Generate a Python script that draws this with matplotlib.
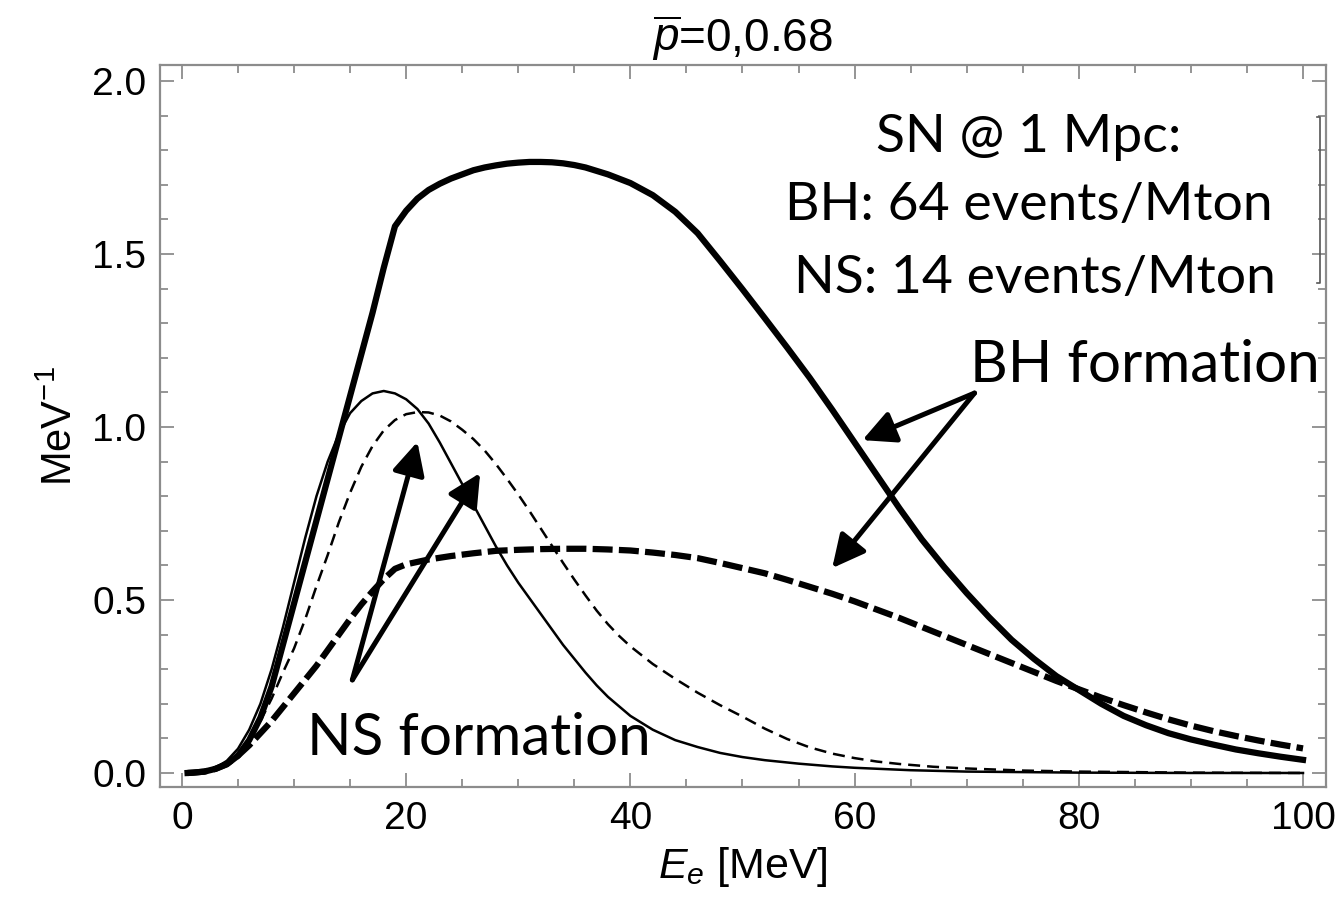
import matplotlib
matplotlib.use("Agg")
import matplotlib.pyplot as plt
from matplotlib.ticker import MultipleLocator

plt.rcParams['mathtext.fontset'] = 'custom'
plt.rcParams['mathtext.rm'] = 'Liberation Sans'
plt.rcParams['mathtext.it'] = 'Liberation Sans:italic'

# BH formation, pbar = 0 (thick solid)
e_bh0 = [0.5, 1, 2, 3, 4, 5, 6, 7, 8, 9, 10, 11, 12, 13, 14, 15, 16, 17, 18, 19, 20, 21, 22,
         23, 24, 25, 26, 27, 28, 29, 30, 31, 32, 33, 34, 35, 36, 38, 40, 42, 44, 46, 48, 50,
         52, 54, 56, 58, 60, 62, 64, 66, 68, 70, 72, 74, 76, 78, 80, 82, 84, 86, 88, 90, 92,
         94, 96, 98, 100]
v_bh0 = [0.0, 0.001, 0.004, 0.012, 0.025, 0.05, 0.095, 0.16, 0.25, 0.37, 0.49, 0.61, 0.73,
         0.85, 0.97, 1.09, 1.21, 1.33, 1.46, 1.58, 1.625, 1.66, 1.685, 1.703, 1.718, 1.73,
         1.742, 1.75, 1.756, 1.761, 1.764, 1.766, 1.766, 1.765, 1.762, 1.757, 1.75, 1.73,
         1.705, 1.67, 1.622, 1.56, 1.48, 1.398, 1.314, 1.229, 1.142, 1.05, 0.955, 0.86, 0.765,
         0.675, 0.595, 0.52, 0.45, 0.385, 0.33, 0.28, 0.24, 0.2, 0.165, 0.138, 0.115, 0.097,
         0.082, 0.068, 0.057, 0.047, 0.038]

# BH formation, pbar = 0.68 (thick dashed)
e_bh68 = [0.5, 1, 2, 3, 4, 5, 6, 7, 8, 9, 10, 11, 12, 13, 14, 15, 16, 17, 18, 19, 20, 21, 22,
          24, 26, 28, 30, 32, 34, 36, 38, 40, 42, 44, 46, 48, 50, 52, 54, 56, 58, 60, 62, 64,
          66, 68, 70, 72, 74, 76, 78, 80, 82, 84, 86, 88, 90, 92, 94, 96, 98, 100]
v_bh68 = [0.0, 0.001, 0.004, 0.012, 0.026, 0.05, 0.08, 0.115, 0.15, 0.19, 0.23, 0.27, 0.31,
          0.355, 0.4, 0.445, 0.487, 0.525, 0.56, 0.59, 0.603, 0.61, 0.617, 0.627, 0.635, 0.642,
          0.645, 0.647, 0.648, 0.648, 0.646, 0.643, 0.637, 0.63, 0.621, 0.607, 0.592, 0.577,
          0.558, 0.538, 0.518, 0.496, 0.472, 0.448, 0.422, 0.396, 0.37, 0.344, 0.318, 0.292,
          0.266, 0.242, 0.218, 0.196, 0.175, 0.155, 0.137, 0.121, 0.107, 0.094, 0.082, 0.071]

# NS formation, pbar = 0 (thin solid)
e_ns0 = [0.5, 1, 2, 3, 4, 5, 6, 7, 8, 9, 10, 11, 12, 13, 14, 15, 16, 17, 18, 19, 20, 21, 22,
         23, 24, 25, 26, 27, 28, 29, 30, 31, 32, 33, 34, 35, 36, 37, 38, 40, 42, 44, 46, 48,
         50, 52, 55, 58, 60, 65, 70, 80, 90, 100]
v_ns0 = [0.0, 0.001, 0.005, 0.015, 0.035, 0.07, 0.125, 0.2, 0.3, 0.42, 0.55, 0.68, 0.8, 0.9,
         0.98, 1.04, 1.075, 1.097, 1.104, 1.097, 1.08, 1.052, 1.01, 0.955, 0.895, 0.835, 0.775,
         0.715, 0.655, 0.6, 0.55, 0.505, 0.46, 0.415, 0.37, 0.33, 0.29, 0.253, 0.22, 0.165,
         0.125, 0.095, 0.075, 0.058, 0.046, 0.037, 0.027, 0.019, 0.015, 0.008, 0.004, 0.001,
         0.0, 0.0]

# NS formation, pbar = 0.68 (thin dashed)
e_ns68 = [0.5, 1, 2, 3, 4, 5, 6, 7, 8, 9, 10, 11, 12, 13, 14, 15, 16, 17, 18, 19, 20, 21, 22,
          23, 24, 25, 26, 27, 28, 29, 30, 31, 32, 33, 34, 35, 36, 37, 38, 39, 40, 42, 44, 46,
          48, 50, 52, 54, 56, 58, 60, 62, 64, 67, 70, 75, 80, 90, 100]
v_ns68 = [0.0, 0.001, 0.004, 0.012, 0.028, 0.055, 0.095, 0.15, 0.215, 0.29, 0.36, 0.445, 0.54,
          0.63, 0.725, 0.81, 0.885, 0.945, 0.99, 1.02, 1.037, 1.043, 1.042, 1.033, 1.016, 0.992,
          0.965, 0.932, 0.893, 0.85, 0.805, 0.757, 0.707, 0.657, 0.607, 0.559, 0.513, 0.469,
          0.43, 0.396, 0.366, 0.315, 0.272, 0.232, 0.196, 0.163, 0.128, 0.098, 0.074, 0.056,
          0.043, 0.033, 0.026, 0.018, 0.013, 0.007, 0.004, 0.001, 0.0]

x_ticks = [0, 20, 40, 60, 80, 100]
y_ticks = [0.0, 0.5, 1.0, 1.5, 2.0]

fig = plt.figure(figsize=(13.41, 9.15), dpi=100)
ax = fig.add_axes([0.1193, 0.1399, 0.8695, 0.789])

ax.plot(e_bh0, v_bh0, color='black', lw=4.5)
ax.plot(e_bh68, v_bh68, color='black', lw=4.5, dashes=(3.2, 1.0))
ax.plot(e_ns0, v_ns0, color='black', lw=1.8)
ax.plot(e_ns68, v_ns68, color='black', lw=1.8, dashes=(4.8, 2.8))

ax.set_xlim(-1.96, 102.05)
ax.set_ylim(-0.0405, 2.046)
ax.set_xticks(x_ticks)
ax.set_yticks(y_ticks)
ax.set_xticklabels([str(t) for t in x_ticks])
ax.set_yticklabels([f"{t:.1f}" for t in y_ticks])
ax.xaxis.set_minor_locator(MultipleLocator(5))
ax.yaxis.set_minor_locator(MultipleLocator(0.1))

frame_col = '#8c8c8c'
for s in ax.spines.values():
    s.set_color(frame_col)
    s.set_linewidth(1.6)
ax.tick_params(which='both', direction='in', top=True, right=True, color=frame_col, width=1.3)
ax.tick_params(which='major', length=10, labelsize=28, pad=10)
ax.tick_params(which='minor', length=6)
for lab in ax.get_xticklabels() + ax.get_yticklabels():
    lab.set_family('Liberation Sans')

ax.set_xlabel(r'$E_e$ [MeV]', fontsize=31, family='Liberation Sans', labelpad=6)
ax.set_ylabel(r'MeV$^{-1}$', fontsize=30, family='Liberation Sans', labelpad=8)
ax.set_title(r'$\overline{p}$=0,0.68', fontsize=33, family='Liberation Sans', pad=10)

# annotations (Calibri-like)
afont = 'Lato'
ax.text(0.745, 0.8795, 'SN @ 1 Mpc:', transform=ax.transAxes, ha='center', va='baseline',
        fontsize=38.5, family=afont)
ax.text(0.745, 0.7853, 'BH: 64 events/Mton', transform=ax.transAxes, ha='center',
        va='baseline', fontsize=38.5, family=afont)
ax.text(0.75, 0.6842, 'NS: 14 events/Mton', transform=ax.transAxes, ha='center',
        va='baseline', fontsize=38.5, family=afont)
ax.text(0.8448, 0.5609, 'BH formation', transform=ax.transAxes, ha='center', va='baseline',
        fontsize=42, family=afont)
ax.text(0.2736, 0.0443, 'NS formation', transform=ax.transAxes, ha='center', va='baseline',
        fontsize=42, family=afont)

arrow = dict(arrowstyle='-|>,head_length=0.9,head_width=0.45', color='black', lw=3.6,
             mutation_scale=22, shrinkA=0, shrinkB=0)
ax.annotate('', xy=(21.0, 0.957), xytext=(15.2, 0.269), arrowprops=arrow)
ax.annotate('', xy=(26.6, 0.867), xytext=(15.2, 0.269), arrowprops=arrow)
ax.annotate('', xy=(60.7, 0.962), xytext=(70.7, 1.098), arrowprops=arrow)
ax.annotate('', xy=(58.0, 0.592), xytext=(70.7, 1.098), arrowprops=arrow)

# small bracket mark at the right edge
ax.plot([0.992, 0.995, 0.995, 0.992], [0.928, 0.928, 0.698, 0.698], transform=ax.transAxes,
        color='#555555', lw=1.2)

fig.savefig('out.png', dpi=100)
